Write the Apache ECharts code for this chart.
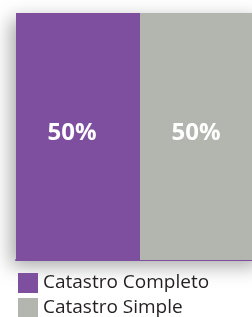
<!DOCTYPE html>
<html><head><meta charset="utf-8">
<script src="https://cdn.jsdelivr.net/npm/echarts@6/dist/echarts.min.js"></script>
<style>html,body{margin:0;padding:0;background:#fff;overflow:hidden;width:252px;height:317px}#c{width:264px;height:317px}</style>
</head><body><div id="c"></div>
<script>
const categories = ['Catastro'];
const seriesNames = ['Catastro Completo', 'Catastro Simple'];
const completoValues = [50];
const simpleValues = [50];
const colors = ['#7E4F9F', '#B3B5AF'];

const legendText = { fontFamily: 'Open Sans', fontSize: 19, color: '#231F20' };
const chart = echarts.init(document.getElementById('c'));
chart.setOption({
  animation: false,
  grid: {
    left: 16, right: 0, top: 13, bottom: 57,
    show: true, backgroundColor: '#fff', borderWidth: 0,
    shadowBlur: 18, shadowColor: 'rgba(0,0,0,0.35)', shadowOffsetX: -5, shadowOffsetY: 6
  },
  xAxis: {
    type: 'value', min: 0, max: 100,
    axisLine: { show: true, lineStyle: { color: '#7E4F9F', width: 2 } },
    axisTick: { show: false }, axisLabel: { show: false }, splitLine: { show: false }
  },
  yAxis: {
    type: 'category', data: categories,
    axisLine: { show: false }, axisTick: { show: false }, axisLabel: { show: false }
  },
  legend: [
    { left: 18, top: 273, itemWidth: 20, itemHeight: 20, icon: 'rect', padding: 0, textStyle: legendText, data: [seriesNames[0]] },
    { left: 18, top: 298, itemWidth: 20, itemHeight: 20, icon: 'rect', padding: 0, textStyle: legendText, data: [seriesNames[1]] }
  ],
  series: [
    {
      name: seriesNames[0], type: 'bar', stack: 'total', barWidth: '100%',
      itemStyle: { color: colors[0] }, data: completoValues,
      label: { show: true, position: 'inside', formatter: '{c}%', color: '#fff', fontFamily: 'Open Sans', fontWeight: 'bold', fontSize: 24, offset: [-6, -3] }
    },
    {
      name: seriesNames[1], type: 'bar', stack: 'total', barWidth: '100%',
      itemStyle: { color: colors[1] }, data: simpleValues,
      label: { show: true, position: 'inside', formatter: '{c}%', color: '#fff', fontFamily: 'Open Sans', fontWeight: 'bold', fontSize: 24, offset: [-6, -3] }
    }
  ]
});
</script></body></html>
